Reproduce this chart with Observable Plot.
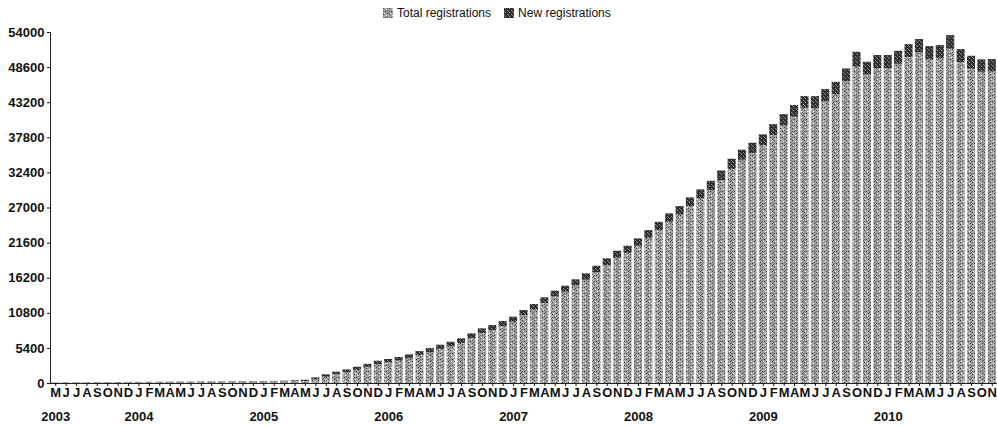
<!DOCTYPE html>
<html><head><meta charset="utf-8">
<script src="https://cdn.jsdelivr.net/npm/d3@7"></script>
<script src="https://cdn.jsdelivr.net/npm/@observablehq/plot@0.6"></script>
<style>
body{margin:0;background:#fff;font-family:"Liberation Sans",Arial,sans-serif;color:#111;}
#legend{height:26px;display:flex;align-items:center;padding-left:383px;font-size:12px;}
#legend .sw{width:10px;height:10px;margin-right:4px;display:inline-block;}
#legend .item{display:flex;align-items:center;margin-right:13px;}
#defs{position:absolute;width:0;height:0;}
</style></head><body>
<svg id="defs" width="0" height="0">
  <defs>
    <pattern id="pTotal" width="6" height="6" patternUnits="userSpaceOnUse">
      <rect width="6" height="6" fill="#a2a2a2"/>
      <rect x="0" y="0" width="1" height="1" fill="#3a3a3a"/>
      <rect x="3" y="1" width="1" height="1" fill="#fff"/>
      <rect x="2" y="3" width="1" height="1" fill="#333"/>
      <rect x="5" y="4" width="1" height="1" fill="#555"/>
      <rect x="1" y="5" width="1" height="1" fill="#eee"/>
      <rect x="4" y="2" width="1" height="1" fill="#555"/>
      <rect x="0" y="3" width="1" height="1" fill="#666"/>
      <rect x="4" y="5" width="1" height="1" fill="#444"/>
    </pattern>
    <pattern id="pNew" width="4" height="4" patternUnits="userSpaceOnUse">
      <rect width="4" height="4" fill="#303030"/>
      <rect x="1" y="0" width="1" height="1" fill="#999"/>
      <rect x="3" y="2" width="1" height="1" fill="#888"/>
      <rect x="0" y="3" width="1" height="1" fill="#777"/>
    </pattern>
  </defs>
</svg>
<div id="legend">
  <span class="item"><svg class="sw" width="10" height="10"><rect width="10" height="10" fill="url(#pTotal)"/></svg>Total registrations</span>
  <span class="item"><svg class="sw" width="10" height="10"><rect width="10" height="10" fill="url(#pNew)"/></svg>New registrations</span>
</div>
<div id="chart"></div>
<script>
// Categories: months May 2003 .. Nov 2010
const startYear = 2003, startMonth = 5, monthCount = 91;
const monthLetters = ["J","F","M","A","M","J","J","A","S","O","N","D"];
const months = [];
for (let i = 0; i < monthCount; i++) {
  const m0 = startMonth - 1 + i;
  const y = startYear + Math.floor(m0 / 12), m = m0 % 12 + 1;
  months.push(`${y}-${String(m).padStart(2, "0")}`);
}
const years = ["2003","2004","2005","2006","2007","2008","2009","2010"];
const yearStarts = ["2003-05","2004-01","2005-01","2006-01","2007-01","2008-01","2009-01","2010-01"];
const yTicks = [0,5400,10800,16200,21600,27000,32400,37800,43200,48600,54000];

// Bar tops (total + new)
const topValues = [
  80,100,110,120,130,140,150,160,
  170,180,190,200,210,220,230,240,250,260,280,290,
  310,330,360,420,500,870,1340,1740,2100,2500,2950,3430,
  3700,4000,4400,4900,5380,5900,6350,6870,7640,8410,8920,9540,
  10200,11230,12150,13180,14200,14970,15950,16870,18040,19180,20350,21120,
  22250,23530,24800,26100,27220,28560,29790,31110,32700,34500,35900,36960,
  38250,39830,41370,42760,44140,44140,45220,46340,48400,50960,49420,50450,
  50450,51110,52140,52910,51830,51990,53520,51370,50340,49790,49830
];
const newRegs = [
  30,40,30,40,30,40,30,40,
  40,30,50,40,50,40,50,60,50,60,70,60,
  70,80,90,150,200,320,380,420,450,480,500,520,
  540,560,580,600,620,650,700,720,740,760,780,800,
  780,820,860,880,900,920,950,980,1000,1050,1080,1100,
  1150,1200,1250,1300,1320,1350,1400,1450,1500,1550,1550,1600,
  1650,1700,1750,1800,1800,1850,1900,1950,2000,2300,2000,2000,
  2000,2000,2000,2000,2000,2000,2100,2000,2000,1900,1900
];
const totalRegs = topValues.map((t, i) => t - newRegs[i]);

const rows = months.map((m, i) => ({month: m, total: totalRegs[i], top: totalRegs[i] + newRegs[i]}));
const yearRows = years.map((y, i) => ({year: y, month: yearStarts[i]}));

const chart = Plot.plot({
  width: 997, height: 400,
  marginLeft: 50, marginRight: 0, marginTop: 6, marginBottom: 43,
  style: {fontFamily: "'Liberation Sans', Arial, sans-serif", fontSize: "13px", fontWeight: "bold", color: "#111", background: "#fff", overflow: "visible"},
  x: {type: "band", domain: months, paddingInner: 0.22, paddingOuter: 0.11, axis: null, label: null},
  y: {domain: [0, 54000], axis: null, label: null},
  marks: [
    Plot.barY(rows, {x: "month", y1: 0, y2: "total", fill: "url(#pTotal)"}),
    Plot.barY(rows, {x: "month", y1: "total", y2: "top", fill: "url(#pNew)"}),
    Plot.frame({anchor: "left", stroke: "#222"}),
    Plot.ruleY([0], {stroke: "#222"}),
    Plot.axisY({ticks: yTicks, tickFormat: d => String(d), tickSize: 3, tickPadding: 3, fontSize: 13, fill: "#111", label: null}),
    Plot.axisX({tickFormat: m => monthLetters[+m.slice(5) - 1], tickSize: 3, tickPadding: 1, fontSize: 13, fill: "#111", label: null}),
    Plot.text(yearRows, {x: "month", text: "year", frameAnchor: "bottom", dy: 37, fontSize: 13, fill: "#111"})
  ]
});
document.getElementById("chart").appendChild(chart);
</script>
</body></html>
